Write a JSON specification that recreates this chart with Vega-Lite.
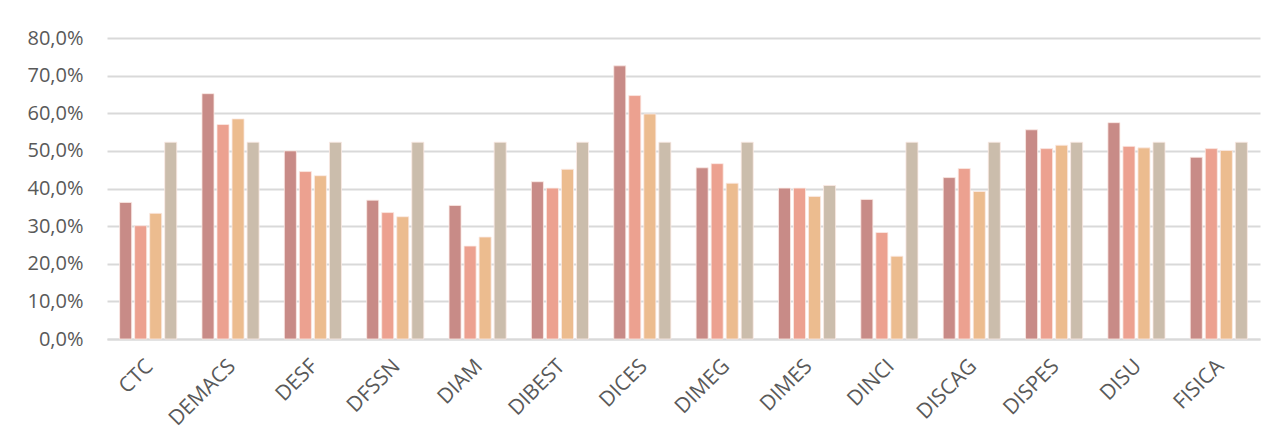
{
  "$schema": "https://vega.github.io/schema/vega-lite/v6.json",
  "autosize": "none",
  "width": 1153,
  "height": 301,
  "padding": {"left": 107, "top": 38, "right": 27, "bottom": 105},
  "background": "white",
  "data": {
    "values": [
      {"dip": "CTC", "serie": "Serie1", "valore": 0.363},
      {"dip": "CTC", "serie": "Serie2", "valore": 0.301},
      {"dip": "CTC", "serie": "Serie3", "valore": 0.334},
      {"dip": "CTC", "serie": "Serie4", "valore": 0.523},
      {"dip": "DEMACS", "serie": "Serie1", "valore": 0.652},
      {"dip": "DEMACS", "serie": "Serie2", "valore": 0.570},
      {"dip": "DEMACS", "serie": "Serie3", "valore": 0.585},
      {"dip": "DEMACS", "serie": "Serie4", "valore": 0.523},
      {"dip": "DESF", "serie": "Serie1", "valore": 0.500},
      {"dip": "DESF", "serie": "Serie2", "valore": 0.445},
      {"dip": "DESF", "serie": "Serie3", "valore": 0.434},
      {"dip": "DESF", "serie": "Serie4", "valore": 0.523},
      {"dip": "DFSSN", "serie": "Serie1", "valore": 0.369},
      {"dip": "DFSSN", "serie": "Serie2", "valore": 0.336},
      {"dip": "DFSSN", "serie": "Serie3", "valore": 0.325},
      {"dip": "DFSSN", "serie": "Serie4", "valore": 0.523},
      {"dip": "DIAM", "serie": "Serie1", "valore": 0.355},
      {"dip": "DIAM", "serie": "Serie2", "valore": 0.247},
      {"dip": "DIAM", "serie": "Serie3", "valore": 0.271},
      {"dip": "DIAM", "serie": "Serie4", "valore": 0.523},
      {"dip": "DIBEST", "serie": "Serie1", "valore": 0.418},
      {"dip": "DIBEST", "serie": "Serie2", "valore": 0.401},
      {"dip": "DIBEST", "serie": "Serie3", "valore": 0.451},
      {"dip": "DIBEST", "serie": "Serie4", "valore": 0.523},
      {"dip": "DICES", "serie": "Serie1", "valore": 0.726},
      {"dip": "DICES", "serie": "Serie2", "valore": 0.647},
      {"dip": "DICES", "serie": "Serie3", "valore": 0.598},
      {"dip": "DICES", "serie": "Serie4", "valore": 0.523},
      {"dip": "DIMEG", "serie": "Serie1", "valore": 0.455},
      {"dip": "DIMEG", "serie": "Serie2", "valore": 0.466},
      {"dip": "DIMEG", "serie": "Serie3", "valore": 0.414},
      {"dip": "DIMEG", "serie": "Serie4", "valore": 0.523},
      {"dip": "DIMES", "serie": "Serie1", "valore": 0.401},
      {"dip": "DIMES", "serie": "Serie2", "valore": 0.401},
      {"dip": "DIMES", "serie": "Serie3", "valore": 0.379},
      {"dip": "DIMES", "serie": "Serie4", "valore": 0.408},
      {"dip": "DINCI", "serie": "Serie1", "valore": 0.371},
      {"dip": "DINCI", "serie": "Serie2", "valore": 0.283},
      {"dip": "DINCI", "serie": "Serie3", "valore": 0.220},
      {"dip": "DINCI", "serie": "Serie4", "valore": 0.523},
      {"dip": "DISCAG", "serie": "Serie1", "valore": 0.429},
      {"dip": "DISCAG", "serie": "Serie2", "valore": 0.453},
      {"dip": "DISCAG", "serie": "Serie3", "valore": 0.392},
      {"dip": "DISCAG", "serie": "Serie4", "valore": 0.523},
      {"dip": "DISPES", "serie": "Serie1", "valore": 0.556},
      {"dip": "DISPES", "serie": "Serie2", "valore": 0.506},
      {"dip": "DISPES", "serie": "Serie3", "valore": 0.515},
      {"dip": "DISPES", "serie": "Serie4", "valore": 0.523},
      {"dip": "DISU", "serie": "Serie1", "valore": 0.575},
      {"dip": "DISU", "serie": "Serie2", "valore": 0.512},
      {"dip": "DISU", "serie": "Serie3", "valore": 0.508},
      {"dip": "DISU", "serie": "Serie4", "valore": 0.523},
      {"dip": "FISICA", "serie": "Serie1", "valore": 0.483},
      {"dip": "FISICA", "serie": "Serie2", "valore": 0.506},
      {"dip": "FISICA", "serie": "Serie3", "valore": 0.501},
      {"dip": "FISICA", "serie": "Serie4", "valore": 0.523}
    ]
  },
  "mark": {"type": "bar", "stroke": "#FBEAE4", "strokeWidth": 0.8},
  "encoding": {
    "x": {
      "field": "dip",
      "type": "nominal",
      "sort": null,
      "title": null,
      "scale": {"paddingInner": 0.27, "paddingOuter": 0.135},
      "axis": {
        "labelAngle": -45,
        "labelAlign": "right",
        "labelBaseline": "top",
        "labelPadding": 16,
        "labelOffset": -6,
        "labelFont": "Open Sans",
        "labelFontSize": 21,
        "labelColor": "#595959",
        "ticks": false,
        "domainColor": "#D9D9D9",
        "domainWidth": 2,
        "grid": false
      }
    },
    "xOffset": {
      "field": "serie",
      "type": "nominal",
      "scale": {"paddingInner": 0.2, "paddingOuter": 0.1}
    },
    "y": {
      "field": "valore",
      "type": "quantitative",
      "title": null,
      "scale": {"domain": [0, 0.8], "nice": false},
      "axis": {
        "values": [0, 0.1, 0.2, 0.3, 0.4, 0.5, 0.6, 0.7, 0.8],
        "format": ".1%",
        "labelFont": "Open Sans",
        "labelFontSize": 20,
        "labelColor": "#595959",
        "labelPadding": 24,
        "ticks": false,
        "domain": false,
        "gridColor": "#D9D9D9",
        "gridWidth": 2
      }
    },
    "color": {
      "field": "serie",
      "type": "nominal",
      "legend": null,
      "scale": {"range": ["#C88B87", "#ECA190", "#ECBC8F", "#CBBDAC"]}
    }
  },
  "config": {
    "view": {"stroke": null},
    "locale": {
      "number": {"decimal": ",", "thousands": ".", "grouping": [3], "currency": ["€", ""]}
    }
  }
}
